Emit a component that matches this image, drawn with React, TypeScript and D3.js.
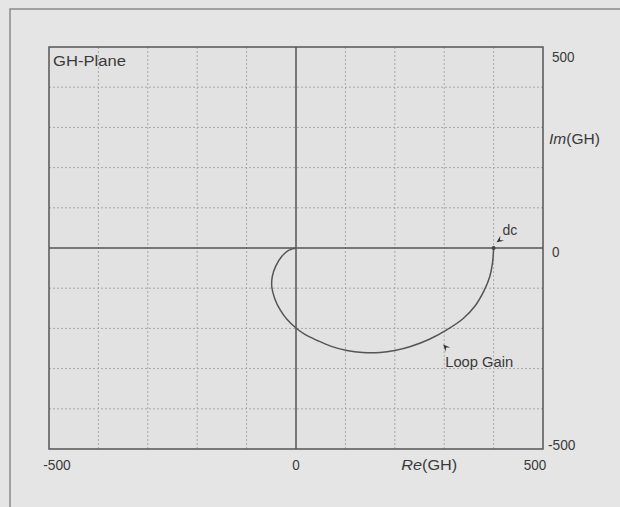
import React from "react";
import * as d3 from "d3";

const reDomain = [-500, 500];
const imDomain = [-500, 500];
const gridValues = [-400, -300, -200, -100, 100, 200, 300, 400];
const xTickLabels = [
  { v: -500, t: "-500" },
  { v: 0, t: "0" },
  { v: 500, t: "500" },
];
const yTickLabels = [
  { v: 500, t: "500" },
  { v: 0, t: "0" },
  { v: -500, t: "-500" },
];
// Loop gain locus (Re, Im) from dc to high frequency
const loopRe = [400, 398, 392, 380, 362, 338, 306, 270, 232, 200, 170, 135, 103, 70, 43, 18, 0, -18, -32, -43, -49, -48, -41, -29, -15, 0];
const loopIm = [0, -35, -72, -108, -145, -176, -203, -227, -245, -255, -260, -260, -255, -244, -230, -215, -199, -178, -154, -126, -97, -71, -45, -21, -6, 0];

const W = 620;
const H = 507;
const M = { left: 49, right: 543, top: 47, bottom: 449 };

export default function App() {
  const x = d3.scaleLinear().domain(reDomain).range([M.left, M.right]);
  const y = d3.scaleLinear().domain(imDomain).range([M.bottom, M.top]);
  const pts: [number, number][] = loopRe.map((r, i) => [r, loopIm[i]]);
  const line = d3
    .line<[number, number]>()
    .x((d) => x(d[0]))
    .y((d) => y(d[1]))
    .curve(d3.curveCatmullRom.alpha(0.5));

  const font = "'Liberation Sans', Arial, sans-serif";
  const txt = "#3a3a3a";
  const fsWord = 14;
  const fsNum = 14;

  const arrow = (tx: number, ty: number, ang: number, len = 7, wid = 3.2) => {
    const bx = tx - Math.cos(ang) * len;
    const by = ty - Math.sin(ang) * len;
    const nx = -Math.sin(ang) * wid;
    const ny = Math.cos(ang) * wid;
    const ix = tx - Math.cos(ang) * len * 0.6;
    const iy = ty - Math.sin(ang) * len * 0.6;
    return `M${tx},${ty}L${bx + nx},${by + ny}L${ix},${iy}L${bx - nx},${by - ny}Z`;
  };

  const numW = (t: string) => t.replace("-", "").length * 7.5 + (t.startsWith("-") ? 5 : 0);

  return (
    <svg
      width={W}
      height={H}
      style={{ position: "absolute", left: 0, top: 0 }}
      fontFamily={font}
    >
      <rect x={0} y={0} width={W} height={H} fill="#e5e5e5" />
      <path d={`M10,${H}L10,9L${W},9`} fill="none" stroke="#8a8a8a" strokeWidth={1.5} />
      <rect
        x={M.left}
        y={M.top}
        width={M.right - M.left}
        height={M.bottom - M.top}
        fill="#e2e2e2"
      />
      {gridValues.map((v) => (
        <line
          key={"gx" + v}
          x1={x(v)}
          x2={x(v)}
          y1={M.top}
          y2={M.bottom}
          stroke="#a8a8a8"
          strokeWidth={1}
          strokeDasharray="2,2"
        />
      ))}
      {gridValues.map((v) => (
        <line
          key={"gy" + v}
          x1={M.left}
          x2={M.right}
          y1={y(v)}
          y2={y(v)}
          stroke="#a8a8a8"
          strokeWidth={1}
          strokeDasharray="2,2"
        />
      ))}
      <line x1={x(0)} x2={x(0)} y1={M.top} y2={M.bottom} stroke="#555" strokeWidth={1.5} />
      <line x1={M.left} x2={M.right} y1={y(0)} y2={y(0)} stroke="#555" strokeWidth={1.5} />
      <rect
        x={M.left}
        y={M.top}
        width={M.right - M.left}
        height={M.bottom - M.top}
        fill="none"
        stroke="#555"
        strokeWidth={1.5}
      />
      <path d={line(pts) || ""} fill="none" stroke="#555" strokeWidth={1.5} />
      <circle cx={x(400)} cy={y(0)} r={2} fill="#444" />

      {/* annotations */}
      <path d={arrow(x(406), y(14), (2.4 * Math.PI) / 3)} fill="#333" />
      <text x={x(418)} y={y(32)} fontSize={fsWord} fill={txt}>
        dc
      </text>
      <path d={arrow(x(298), y(-240), (-2.2 * Math.PI) / 3)} fill="#333" />
      <text x={x(302)} y={y(-296)} fontSize={fsWord} fill={txt} textLength={68} lengthAdjust="spacingAndGlyphs">
        Loop Gain
      </text>

      <text x={M.left + 4} y={M.top + 19} fontSize={fsWord} fill={txt} textLength={73} lengthAdjust="spacingAndGlyphs">
        GH-Plane
      </text>

      {yTickLabels.map((d) => (
        <text
          key={"yl" + d.v}
          x={d.v < 0 ? M.right + 5 : M.right + 9}
          y={y(d.v) + (d.v > 0 ? 15 : d.v < 0 ? 1 : 9)}
          fontSize={fsNum}
          fill={txt}
          textLength={numW(d.t)}
          lengthAdjust="spacingAndGlyphs"
        >
          {d.t}
        </text>
      ))}
      <text x={M.right + 6} y={y(270) + 5} fontSize={fsWord} fill={txt} textLength={51} lengthAdjust="spacingAndGlyphs">
        <tspan fontStyle="italic">Im</tspan>(GH)
      </text>

      {xTickLabels.map((d) => (
        <text
          key={"xl" + d.v}
          x={x(d.v) + (d.v < 0 ? 8 : d.v > 0 ? -8 : 0) - numW(d.t) / 2}
          y={M.bottom + 21}
          fontSize={fsNum}
          fill={txt}
          textLength={numW(d.t)}
          lengthAdjust="spacingAndGlyphs"
        >
          {d.t}
        </text>
      ))}
      <text x={x(213)} y={M.bottom + 21} fontSize={fsWord} fill={txt} textLength={56} lengthAdjust="spacingAndGlyphs">
        <tspan fontStyle="italic">Re</tspan>(GH)
      </text>
    </svg>
  );
}
